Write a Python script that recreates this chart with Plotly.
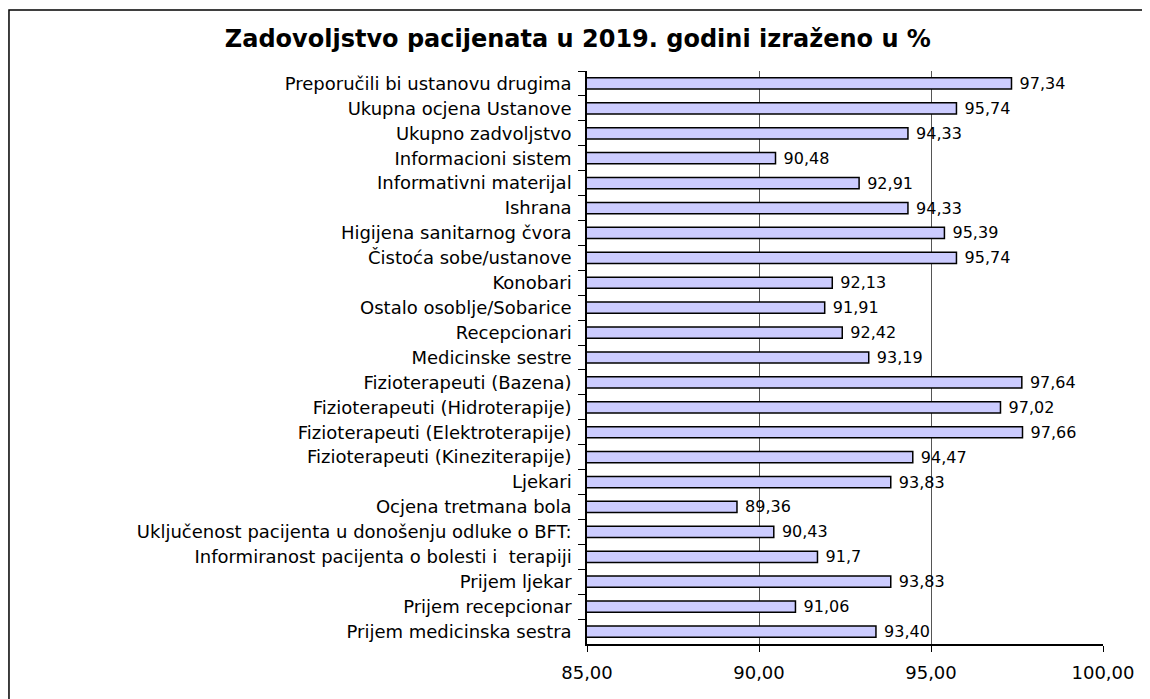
"""
Patient satisfaction 2019 - horizontal bar chart.
"""
import plotly.graph_objects as go

# Categories, top to bottom as they appear on the chart
categories = [
    "Preporučili bi ustanovu drugima",
    "Ukupna ocjena Ustanove",
    "Ukupno zadvoljstvo",
    "Informacioni sistem",
    "Informativni materijal",
    "Ishrana",
    "Higijena sanitarnog čvora",
    "Čistoća sobe/ustanove",
    "Konobari",
    "Ostalo osoblje/Sobarice",
    "Recepcionari",
    "Medicinske sestre",
    "Fizioterapeuti (Bazena)",
    "Fizioterapeuti (Hidroterapije)",
    "Fizioterapeuti (Elektroterapije)",
    "Fizioterapeuti (Kineziterapije)",
    "Ljekari",
    "Ocjena tretmana bola",
    "Uključenost pacijenta u donošenju odluke o BFT:",
    "Informiranost pacijenta o bolesti i  terapiji",
    "Prijem ljekar",
    "Prijem recepcionar",
    "Prijem medicinska sestra",
]

values = [
    97.34, 95.74, 94.33, 90.48, 92.91, 94.33, 95.39, 95.74, 92.13, 91.91,
    92.42, 93.19, 97.64, 97.02, 97.66, 94.47, 93.83, 89.36, 90.43, 91.70,
    93.83, 91.06, 93.40,
]

# Labels as printed next to each bar (decimal comma, original precision)
value_labels = [
    "97,34", "95,74", "94,33", "90,48", "92,91", "94,33", "95,39", "95,74",
    "92,13", "91,91", "92,42", "93,19", "97,64", "97,02", "97,66", "94,47",
    "93,83", "89,36", "90,43", "91,7", "93,83", "91,06", "93,40",
]

x_ticks = [85, 90, 95, 100]

title_text = "Zadovoljstvo pacijenata u 2019. godini izraženo u %"

FONT = "DejaVu Sans"

fig = go.Figure()
fig.add_trace(go.Bar(
    x=values,
    y=categories,
    orientation="h",
    base=0,
    marker=dict(color="#ccccff", line=dict(color="#000000", width=1.5)),
    text=value_labels,
    # small gap between bar end and its label
    texttemplate="\u00a0%{text}",
    textposition="outside",
    constraintext="none",
    textfont=dict(family=FONT, size=16, color="#000000"),
    cliponaxis=False,
    width=0.45,
    hoverinfo="skip",
))

# Frame around the whole chart
fig.add_shape(
    type="rect", xref="paper", yref="paper",
    x0=-1.1202, x1=1.0872, y0=-0.112, y1=1.1065,
    line=dict(color="#000000", width=1.5),
    fillcolor="rgba(0,0,0,0)", layer="below",
)

# page body keeps its default 8px margin, so the figure is sized to fit inside
fig.update_layout(
    width=1142,
    height=691,
    margin=dict(l=579, r=47, t=63, b=55),
    paper_bgcolor="white",
    plot_bgcolor="white",
    separators=", ",
    showlegend=False,
    title=dict(
        text=f"<b>{title_text}</b>",
        x=0.499, xref="container", xanchor="center",
        y=0.955, yref="container", yanchor="middle",
        font=dict(family=FONT, size=24, color="#000000"),
    ),
    xaxis=dict(
        range=[85, 100],
        tickvals=x_ticks,
        tickformat=".2f",
        showgrid=True,
        gridcolor="#555555",
        gridwidth=1,
        zeroline=False,
        showline=True,
        linecolor="#000000",
        linewidth=1.5,
        ticks="outside",
        ticklen=6,
        tickcolor="#000000",
        ticklabelstandoff=6,
        tickfont=dict(family=FONT, size=18, color="#000000"),
        fixedrange=True,
    ),
    yaxis=dict(
        autorange="reversed",
        type="category",
        showgrid=False,
        showline=True,
        linecolor="#000000",
        linewidth=1.5,
        ticks="outside",
        tickson="boundaries",
        ticklen=7,
        tickcolor="#000000",
        ticklabelstandoff=10,
        tickfont=dict(family=FONT, size=18, color="#000000"),
        fixedrange=True,
    ),
)

fig.write_html("out.html")
